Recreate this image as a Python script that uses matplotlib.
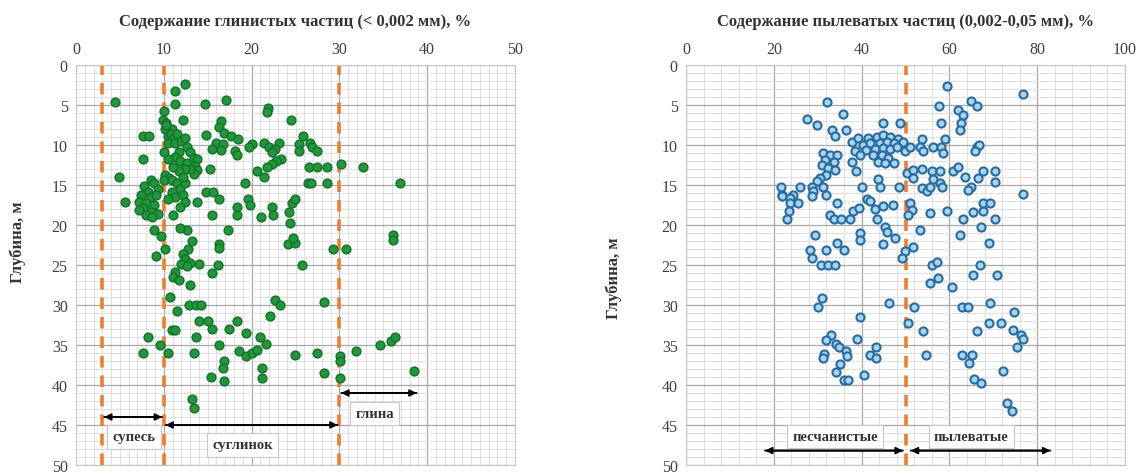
import matplotlib
matplotlib.use("Agg")
import matplotlib.pyplot as plt
from matplotlib.ticker import MultipleLocator

plt.rcParams["font.family"] = ["Liberation Serif", "DejaVu Serif"]

# ── Data ────────────────────────────────────────────────────────────────────

CLAY_PCT = [
    4.4, 12.4, 11.3, 11.3, 14.7, 17.1, 21.9, 21.8, 24.5,
    10.0, 9.9, 10.3, 12.2, 7.6, 8.3, 10.1, 10.9, 10.5,
    10.2, 10.8, 11.0, 10.5, 11.5,
    16.5, 16.3, 14.8, 16.9, 17.7, 18.5, 15.9, 16.7, 15.5, 16.5, 18.1, 18.3,
    20.0, 19.7, 21.4, 22.0, 23.1, 22.7, 22.3,
    23.3, 22.8, 22.3, 21.8, 21.4, 20.6,
    25.9, 25.4, 26.7, 26.9, 25.4, 27.4,
    26.5, 27.5, 28.6, 26.4, 26.8, 28.6,
    30.2, 32.7, 36.9, 7.6, 4.9,
    11.3, 12.0, 12.4, 12.6, 13.0, 11.7, 11.3, 11.9, 12.6, 13.4, 13.8, 13.6, 13.8, 13.4, 13.0, 12.4, 11.7, 11.1,
    10.5, 10.0, 10.1, 10.6, 15.3,
    8.5, 8.9, 7.8, 9.3, 8.2, 7.4, 8.5, 9.1, 7.2, 8.0, 8.9, 7.6, 8.5, 7.2, 9.3, 8.0, 8.7, 5.6,
    10.0, 10.9, 11.5, 11.9, 10.9, 11.3, 10.5, 12.2, 12.4, 11.8, 11.1, 12.4, 12.2, 13.8,
    14.8, 15.6, 16.3, 15.5,
    18.3, 19.6, 19.8, 18.3, 19.2,
    21.1, 22.3, 22.4,
    24.3, 24.6, 24.9, 24.4,
    17.3, 8.9, 12.6, 11.8, 36.1,
    36.1, 24.1, 24.9, 24.7, 16.3, 16.3,
    13.2, 12.8, 12.2, 12.4, 13.0, 14.0, 12.0, 12.6,
    10.1, 9.1, 9.7,
    16.2, 15.5, 29.3, 30.7, 25.7,
    11.3, 11.1, 11.7, 13.0,
    10.7, 12.9, 13.7, 14.2, 11.5,
    22.7, 23.2, 22.1, 28.2,
    14.0, 15.0, 15.5, 18.3, 17.4, 19.4,
    10.9, 11.3, 13.7, 16.3, 20.9, 21.6,
    18.6, 19.4, 20.1, 20.6,
    8.2, 9.6, 7.6, 10.5, 13.4,
    24.9, 27.4, 30.1, 30.1, 31.9, 34.6, 35.9, 36.3,
    16.9, 16.7, 16.9, 15.4,
    21.2, 21.2, 28.2, 30.1, 38.5,
    13.2, 13.4,
]
CLAY_DEPTH = [
    4.6, 2.4, 3.3, 4.9, 4.9, 4.4, 5.4, 5.9, 6.9,
    5.8, 6.9, 7.2, 6.9, 8.9, 8.9, 8.0, 8.0, 8.9,
    7.5, 8.6, 9.2, 9.8, 8.6,
    7.0, 7.8, 8.7, 8.5, 8.9, 9.3, 9.7, 9.9, 10.5, 10.6, 10.7, 11.3,
    9.9, 10.3, 9.7, 10.3, 9.7, 10.5, 10.9,
    11.8, 12.0, 12.4, 12.8, 14.0, 13.2,
    8.9, 9.9, 9.7, 10.3, 10.7, 10.8,
    12.8, 12.8, 12.8, 14.8, 14.8, 14.8,
    12.4, 12.8, 14.8, 11.8, 14.0,
    9.7, 9.5, 9.1, 10.2, 10.9, 10.9, 11.5, 12.0, 12.2, 11.6, 11.8, 12.6, 13.1, 13.6, 13.0, 13.0, 13.2, 12.8,
    11.7, 10.9, 13.8, 14.1, 13.0,
    14.4, 14.8, 15.1, 15.5, 15.9, 16.3, 16.5, 16.3, 17.1, 17.3, 17.5, 17.9, 18.4, 18.1, 18.6, 18.8, 19.0, 17.1,
    14.4, 14.4, 14.8, 15.5, 15.9, 16.5, 16.7, 16.3, 17.1, 17.7, 18.8, 14.8, 14.0, 17.1,
    15.9, 15.9, 16.8, 18.8,
    17.7, 16.8, 17.5, 18.8, 14.8,
    19.0, 17.7, 18.8,
    18.4, 17.3, 16.7, 19.8,
    20.6, 20.6, 20.6, 20.4, 21.2,
    21.9, 22.4, 22.2, 21.6, 22.4, 22.9,
    22.0, 23.0, 23.6, 24.3, 24.7, 24.9, 24.9, 25.1,
    23.0, 23.9, 21.4,
    25.0, 26.0, 23.0, 23.0, 25.0,
    25.9, 26.5, 26.9, 27.5,
    29.0, 30.0, 30.0, 30.0, 30.8,
    29.4, 30.0, 31.4, 29.6,
    32.0, 32.0, 33.0, 32.0, 33.0, 33.5,
    33.1, 33.1, 34.0, 35.0, 34.0, 34.9,
    35.8, 36.4, 36.0, 35.6,
    34.0, 35.0, 36.0, 36.0, 36.0,
    36.2, 36.0, 36.4, 37.0, 35.8, 35.0, 34.5, 34.0,
    37.0, 37.9, 39.5, 39.0,
    37.9, 39.1, 38.5, 39.1, 38.2,
    41.8, 42.9,
]

SILT_PCT = [
    59.4, 76.8, 32.2, 64.9, 66.2, 57.7, 62.0, 63.2, 62.6, 62.4,
    35.8, 27.5, 29.8, 58.0, 44.8, 48.7, 33.2, 34.0, 36.4,
    37.7, 39.2, 41.5, 43.4, 44.9, 46.5, 48.4, 49.5, 40.4, 41.9, 44.2, 45.7, 47.3,
    41.1, 43.0, 44.9, 46.5, 48.0, 49.9, 38.5, 39.6, 42.7, 44.6, 46.1, 43.8, 45.3, 47.3,
    51.0, 53.7, 53.3, 54.1, 56.3, 58.2, 59.0, 58.6,
    66.2, 66.8, 65.8,
    31.3, 32.8, 34.3, 31.7, 33.6, 30.9, 32.4, 34.0, 32.0, 30.5, 29.8, 28.6, 31.3, 29.0, 32.0,
    37.7, 38.8, 40.0, 43.8, 44.2, 48.6,
    21.6, 21.8, 25.9, 24.4, 23.7,
    50.3, 51.8, 53.7, 56.0, 57.9, 51.8, 56.3, 57.9, 58.3,
    53.7, 54.8, 55.6,
    60.9, 62.0, 63.5, 65.0, 64.3, 66.6, 67.7, 70.4, 70.4,
    76.8,
    21.8, 23.7, 25.6, 23.5, 23.1,
    28.6, 34.3,
    32.8, 33.6, 35.4, 37.3, 38.1, 39.3,
    41.2, 41.9, 43.1, 44.9, 47.2,
    43.4, 51.0, 51.4, 50.6,
    55.6, 59.5,
    63.2, 65.3, 67.7, 67.7, 69.3, 70.4,
    53.3,
    29.4, 39.6, 39.6, 45.3, 45.7, 47.6, 44.9,
    62.4, 67.3, 69.1,
    28.2, 28.6, 32.0, 34.3, 35.9,
    30.7, 32.4, 34.0,
    49.9, 49.1, 51.6,
    56.0, 57.1, 55.6, 57.5, 60.5,
    65.3, 67.0, 70.9,
    30.9, 30.1,
    46.3, 51.9,
    39.6,
    50.5,
    62.8, 64.3, 69.3,
    74.7,
    69.1, 71.7, 74.6,
    54.1,
    66.2,
    76.4,
    33.1, 31.9, 34.2, 34.9, 36.4, 36.6, 31.5, 31.2, 35.0, 34.2, 36.0, 37.0,
    38.9, 43.3, 42.0, 43.3, 40.6,
    54.7,
    62.8, 65.1, 64.5, 65.6, 67.1,
    72.1,
    75.3, 76.8,
    73.2, 74.2,
]
SILT_DEPTH = [
    2.6, 3.6, 4.6, 4.5, 5.1, 5.1, 5.6, 6.2, 7.3, 8.1,
    6.1, 6.7, 7.5, 7.2, 7.2, 7.2, 8.1, 8.9, 8.1,
    9.6, 9.1, 9.1, 9.0, 8.7, 9.0, 9.2, 9.6, 10.0, 9.8, 9.8, 9.6, 9.8,
    10.6, 10.5, 10.4, 10.5, 10.3, 10.8, 10.8, 11.2, 11.3, 11.2, 11.6, 12.1, 12.3, 12.3,
    10.2, 9.2, 10.3, 10.7, 10.2, 10.2, 9.2, 11.0,
    10.3, 10.0, 10.7,
    11.0, 11.2, 11.2, 11.9, 12.1, 12.5, 12.9, 13.1, 13.7, 14.1, 14.5, 15.2, 15.2, 15.8, 16.2,
    12.1, 13.3, 15.2, 14.3, 15.3, 15.3,
    15.2, 16.2, 15.2, 16.2, 16.6,
    13.5, 13.1, 13.0, 13.3, 13.3, 14.1, 14.3, 14.8, 15.3,
    15.4, 15.8, 15.2,
    13.3, 12.8, 14.0, 15.2, 15.6, 14.1, 13.3, 13.3, 14.6,
    16.1,
    16.4, 17.2, 17.2, 18.3, 19.2,
    16.4, 17.2,
    18.7, 19.3, 19.3, 19.2, 18.3, 17.9,
    16.8, 17.0, 18.0, 17.6, 17.5,
    19.3, 17.2, 18.1, 18.7,
    18.5, 18.3,
    19.2, 18.4, 18.3, 17.2, 17.2, 19.2,
    20.6,
    21.2, 21.0, 21.9, 20.2, 20.9, 21.6, 22.4,
    21.2, 20.2, 22.2,
    23.1, 24.1, 23.1, 22.2, 23.1,
    25.0, 25.0, 25.0,
    23.2, 24.1, 22.8,
    25.0, 24.6, 27.3, 26.6, 27.7,
    26.2, 25.0, 26.2,
    29.1, 30.3,
    29.7, 30.2,
    31.5,
    32.2,
    30.2, 30.2, 29.7,
    30.9,
    32.2, 32.2, 33.1,
    33.2,
    33.2,
    33.7,
    33.8, 34.4, 34.9, 35.3, 35.8, 36.4, 36.1, 36.6, 37.4, 38.4, 39.4, 39.4,
    34.2, 35.2, 36.2, 36.6, 38.7,
    36.2,
    36.2, 36.2, 37.3, 39.2, 39.7,
    38.3,
    35.2, 34.2,
    42.2, 43.2,
]

CLAY_BOUNDS = [3, 10, 30]
SILT_BOUNDS = [50]

CLAY_TITLE = "Содержание глинистых частиц (< 0,002 мм), %"
SILT_TITLE = "Содержание пылеватых частиц (0,002-0,05 мм), %"
Y_LABEL = "Глубина, м"

# (label, x_from, x_to, arrow depth, text x, text depth)
CLAY_ZONES = [
    ("супесь", 3.2, 9.8, 44.0, 6.6, 46.5),
    ("суглинок", 10.2, 29.8, 45.0, 19.0, 47.5),
    ("глина", 30.2, 38.8, 41.0, 34.0, 43.6),
]
SILT_ZONES = [
    ("песчанистые", 49.4, 18.0, 48.2, 34.0, 46.4),
    ("пылеватые", 51.2, 83.0, 48.2, 65.0, 46.4),
]

ORANGE = "#ed7d31"


def style_axes(ax, xmax, xmajor, xminor):
    ax.set_xlim(0, xmax)
    ax.set_ylim(50, 0)
    ax.xaxis.tick_top()
    ax.xaxis.set_major_locator(MultipleLocator(xmajor))
    ax.xaxis.set_minor_locator(MultipleLocator(xminor))
    ax.yaxis.set_major_locator(MultipleLocator(5))
    ax.yaxis.set_minor_locator(MultipleLocator(1))
    ax.grid(which="minor", color="#dadada", linewidth=0.6)
    ax.grid(which="major", color="#a8a8a8", linewidth=0.9)
    ax.set_axisbelow(True)
    ax.tick_params(which="both", length=0, labelsize=11.5, pad=6, colors="#404040")
    for sp in ax.spines.values():
        sp.set_color("#c8c8c8")
        sp.set_linewidth(0.8)


def draw_zones(ax, zones):
    box = dict(boxstyle="square,pad=0.35", fc="white", ec="#c8c8c8", lw=0.8)
    for label, x0, x1, yd, tx, ty in zones:
        ax.annotate("", xy=(x1, yd), xytext=(x0, yd),
                    arrowprops=dict(arrowstyle="-|>", color="black", lw=1.3,
                                    mutation_scale=10, shrinkA=0, shrinkB=0))
        ax.annotate("", xy=(x0, yd), xytext=(x1, yd),
                    arrowprops=dict(arrowstyle="-|>", color="black", lw=1.3,
                                    mutation_scale=10, shrinkA=0, shrinkB=0))
        ax.text(tx, ty, label, ha="center", va="center", fontsize=10.5,
                fontweight="bold", color="#333333", bbox=box, zorder=5)


fig = plt.figure(figsize=(11.41, 4.77), dpi=100)
ax1 = fig.add_axes([76 / 1141, 11 / 477, 439 / 1141, 400 / 477])
ax2 = fig.add_axes([686 / 1141, 11 / 477, 439 / 1141, 400 / 477])

# left: clay
style_axes(ax1, 50, 10, 1)
for b in CLAY_BOUNDS:
    ax1.axvline(b, color=ORANGE, lw=2.6, dashes=(3.2, 2.2), zorder=2)
ax1.scatter(CLAY_PCT, CLAY_DEPTH, s=40, c="#21963a", edgecolors="#11722a",
            linewidths=1.0, zorder=3)
draw_zones(ax1, CLAY_ZONES)
ax1.set_title(CLAY_TITLE, fontsize=12, fontweight="bold", pad=29, color="#333333")
ax1.set_ylabel(Y_LABEL, fontsize=12, fontweight="bold", color="#333333")
ax1.yaxis.set_label_coords(-0.115, 0.56)

# right: silt
style_axes(ax2, 100, 20, 4)
for b in SILT_BOUNDS:
    ax2.axvline(b, color=ORANGE, lw=2.6, dashes=(3.2, 2.2), zorder=2)
ax2.scatter(SILT_PCT, SILT_DEPTH, s=34, c="#a4d6f0", edgecolors="#2a6aa0",
            linewidths=1.5, zorder=3)
draw_zones(ax2, SILT_ZONES)
ax2.set_title(SILT_TITLE, fontsize=12, fontweight="bold", pad=29, color="#333333")
ax2.set_ylabel(Y_LABEL, fontsize=12, fontweight="bold", color="#333333")
ax2.yaxis.set_label_coords(-0.145, 0.47)

fig.savefig("out.png", dpi=100)
